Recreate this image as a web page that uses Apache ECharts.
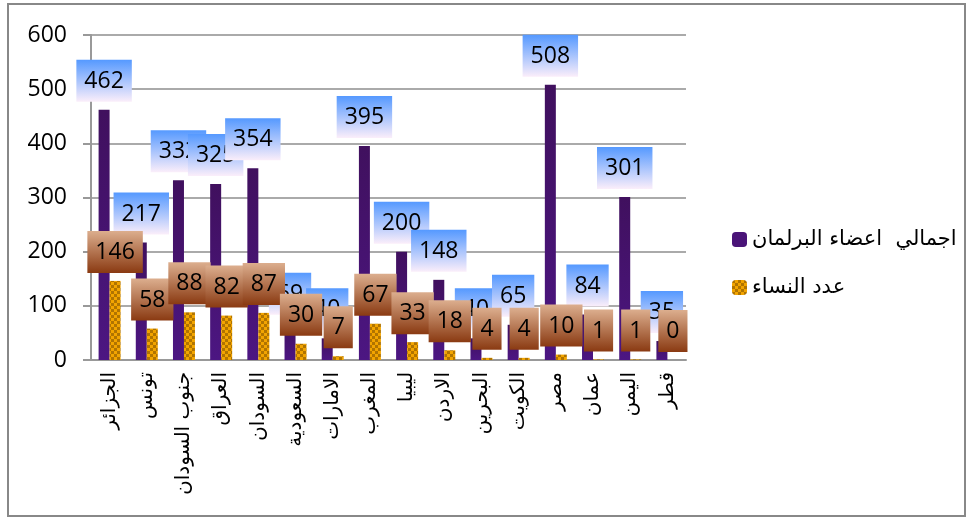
<!DOCTYPE html>
<html><head><meta charset="utf-8">
<script src="https://cdn.jsdelivr.net/npm/echarts@6/dist/echarts.min.js"></script>
<style>html,body{margin:0;padding:0;background:#fff}#c{width:973px;height:519px}</style>
</head><body><div id="c"></div>
<script>
const categories = ['الجزائر','تونس','جنوب السودان','العراق','السودان','السعودية','الامارات','المغرب','ليبيا','الاردن','البحرين','الكويت','مصر','عمان','اليمن','قطر'];
const totalMembers = [462,217,332,325,354,69,40,395,200,148,40,65,508,84,301,35];
const womenMembers = [146,58,88,82,87,30,7,67,33,18,4,4,10,1,1,0];
const seriesNames = ['اجمالي  اعضاء البرلمان','عدد النساء'];
const yTicks = {min:0, max:600, interval:100};

// checker pattern for women bars
const pc = document.createElement('canvas');
pc.width = 6; pc.height = 6;
const pctx = pc.getContext('2d');
pctx.fillStyle = '#f2a400'; pctx.fillRect(0,0,6,6);
pctx.fillStyle = '#b07400'; pctx.fillRect(0,0,3,3); pctx.fillRect(3,3,3,3);

const numFont = 'Open Sans';
const arFont = 'DejaVu Sans';

const chart = echarts.init(document.getElementById('c'));
chart.setOption({
  backgroundColor:'#fff',
  animation:false,
  graphic:[{type:'rect',shape:{x:8,y:4,width:957,height:512},style:{fill:'none',stroke:'#888',lineWidth:2},z:-1}],
  grid:{left:91,right:287,top:35,bottom:159},
  legend:{orient:'vertical',left:727,top:224,itemWidth:15,itemHeight:15,itemGap:27,
    textStyle:{fontFamily:arFont,fontSize:21,color:'#000'},
    data:[{name:seriesNames[0],itemStyle:{color:'#4a1478'}},{name:seriesNames[1],itemStyle:{color:{image:pc,repeat:'repeat'}}}]},
  xAxis:{type:'category',data:categories,
    axisLine:{lineStyle:{color:'#999',width:2}},
    axisTick:{length:6,lineStyle:{color:'#999',width:2}},
    axisLabel:{rotate:90,interval:0,margin:12,fontFamily:arFont,fontSize:20,color:'#000'}},
  yAxis:{type:'value',min:yTicks.min,max:yTicks.max,interval:yTicks.interval,
    axisLine:{show:true,lineStyle:{color:'#999',width:2}},
    axisTick:{show:true,length:8,lineStyle:{color:'#999',width:2}},
    splitLine:{lineStyle:{color:'#aaa',width:2}},
    axisLabel:{margin:24,fontFamily:numFont,fontSize:23,color:'#000'}},
  series:[
    {name:seriesNames[0],type:'bar',data:totalMembers,barWidth:11,barGap:'0%',
      itemStyle:{color:new echarts.graphic.LinearGradient(0,0,0,1,[{offset:0,color:'#40105e'},{offset:1,color:'#4c1682'}])},
      label:{show:true,position:'top',distance:8,fontFamily:numFont,fontSize:23,color:'#000',lineHeight:25,padding:[9,8,8,8],
        backgroundColor:new echarts.graphic.LinearGradient(0,0,0,1,[{offset:0,color:'#5599ff'},{offset:1,color:'#fbeefa'}])}},
    {name:seriesNames[1],type:'bar',data:womenMembers,barWidth:11,
      itemStyle:{color:{image:pc,repeat:'repeat'}},
      label:{show:true,position:'top',distance:8,fontFamily:numFont,fontSize:23,color:'#000',lineHeight:25,padding:[9,8,8,8],
        backgroundColor:new echarts.graphic.LinearGradient(0,0,0,1,[{offset:0,color:'#dcae8e'},{offset:1,color:'#8a3a12'}])}}
  ]
});
</script></body></html>
